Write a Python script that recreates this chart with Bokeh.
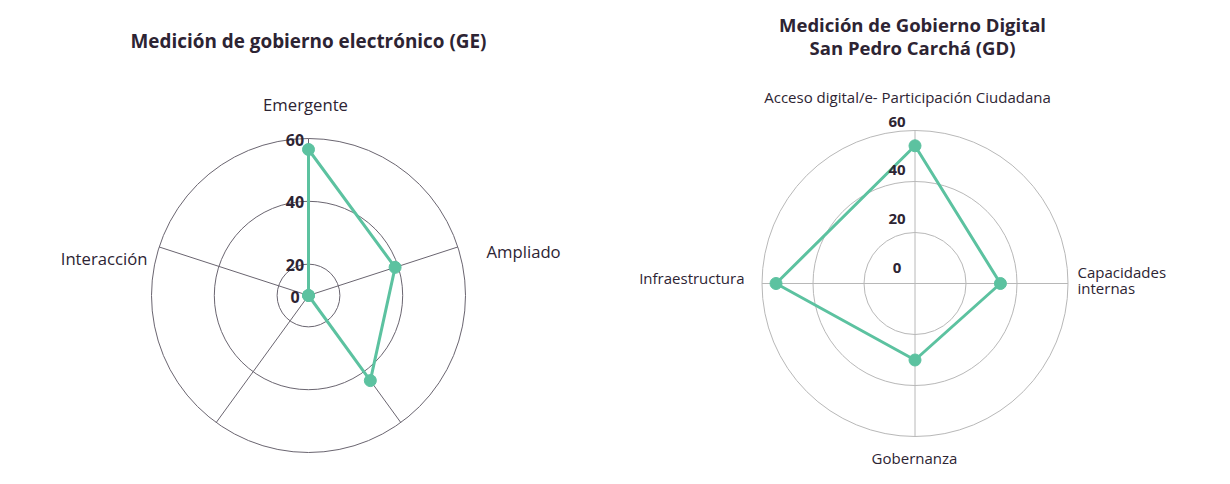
import numpy as np
from bokeh.plotting import figure
from bokeh.models import Range1d
from bokeh.core.properties import value
from bokeh.embed import file_html
from bokeh.resources import INLINE

# ---------------- data ----------------
ge_title = "Medición de gobierno electrónico (GE)"
ge_categories = ["Emergente", "Ampliado", "", "", "Interacción"]
ge_values = [56.5, 39, 43.5, 0, 0]
ge_ticks = [0, 20, 40, 60]

gd_title = ["Medición de Gobierno Digital", "San Pedro Carchá (GD)"]
gd_categories = ["Acceso digital/e- Participación Ciudadana", "Capacidades\ninternas",
                 "Gobernanza", "Infraestructura"]
gd_values = [54, 33.5, 30, 54.5]
gd_ticks = [0, 20, 40, 60]

# ---------------- style / layout ----------------
W, H = 1214, 468
GREEN = "#5cc2a0"
TXT = "#2d2433"
FONT = "Open Sans"


def sx(x):  # screen x -> data x
    return x


def sy(y):  # screen y -> data y
    return H - y


p = figure(width=W, height=H, x_range=Range1d(0, W), y_range=Range1d(0, H),
           output_backend="svg", toolbar_location=None, min_border=0)
p.axis.visible = False
p.grid.visible = False
p.outline_line_color = None
p.background_fill_color = "white"
p.border_fill_color = "white"


def txt(x, y, s, size, bold=False, align="center", color=TXT):
    p.text(x=[x], y=[y], text=[s], text_font=value(FONT), text_font_size=size,
           text_font_style="bold" if bold else "normal", text_align=align,
           text_baseline="middle", text_color=color)


# ================= left radar (GE) =================
cx1, cy1 = sx(308), sy(295)
R1 = 157.0
rmin1, rmax1 = 10.0, 60.0


def r1(v):
    return max(0.0, v - rmin1) / (rmax1 - rmin1) * R1


n1 = len(ge_categories)
ang1 = np.pi / 2 - np.arange(n1) * 2 * np.pi / n1
ring1 = "#6a6570"
for t in ge_ticks:
    if r1(t) > 0:
        p.circle(x=[cx1], y=[cy1], radius=r1(t), fill_color=None, line_color=ring1, line_width=1)
for a in ang1:
    p.line(x=[cx1, cx1 + R1 * np.cos(a)], y=[cy1, cy1 + R1 * np.sin(a)], line_color=ring1, line_width=1)

rr = np.array([r1(v) for v in ge_values])
px = cx1 + rr * np.cos(ang1)
py = cy1 + rr * np.sin(ang1)
p.line(x=list(px) + [px[0]], y=list(py) + [py[0]], line_color=GREEN, line_width=3)
p.scatter(x=px, y=py, size=12, fill_color=GREEN, line_color=GREEN)

for t in ge_ticks:
    txt(cx1 - 13.5, cy1 + r1(t) - 1, str(t), "16px", bold=True, align="center")

# axis labels (layout positions, screen coords)
ge_lab_pos = [(305, 104, "center"), (486, 251, "left"), None, None, (147, 258, "right")]
for lab, pos in zip(ge_categories, ge_lab_pos):
    if lab and pos:
        txt(sx(pos[0]), sy(pos[1]), lab, "16.7px", align=pos[2])

txt(sx(308), sy(40), ge_title, "18.9px", bold=True)

# ================= right radar (GD) =================
cx2, cy2 = sx(914.5), sy(283)
R2 = 153.0
rmax2 = 60.0


def r2(v):
    return v / rmax2 * R2


n2 = len(gd_categories)
ang2 = np.pi / 2 - np.arange(n2) * 2 * np.pi / n2
ring2 = "#b8b8b8"
for t in gd_ticks:
    if r2(t) > 0:
        p.circle(x=[cx2], y=[cy2], radius=r2(t), fill_color=None, line_color=ring2, line_width=1)
for a in ang2:
    p.line(x=[cx2, cx2 + R2 * np.cos(a)], y=[cy2, cy2 + R2 * np.sin(a)], line_color=ring2, line_width=1)

rr2 = np.array([r2(v) for v in gd_values])
qx = cx2 + rr2 * np.cos(ang2)
qy = cy2 + rr2 * np.sin(ang2)
p.line(x=list(qx) + [qx[0]], y=list(qy) + [qy[0]], line_color=GREEN, line_width=3)
p.scatter(x=qx, y=qy, size=12, fill_color=GREEN, line_color=GREEN)

for t in gd_ticks:
    txt(cx2 - 18, cy2 + 16 + t / rmax2 * 146, str(t), "15px", bold=True)

gd_lab_pos = [(907, 96, "center"), (1077, 271, "left"), (914, 457, "center"), (744, 277, "right")]
for lab, pos in zip(gd_categories, gd_lab_pos):
    for k, line in enumerate(lab.split("\n")):
        txt(sx(pos[0]), sy(pos[1] + 16 * k), line, "15px", align=pos[2])

for k, line in enumerate(gd_title):
    txt(sx(912), sy(24 + 23 * k), line, "18.5px", bold=True)

open("out.html", "w").write(file_html(p, INLINE))
